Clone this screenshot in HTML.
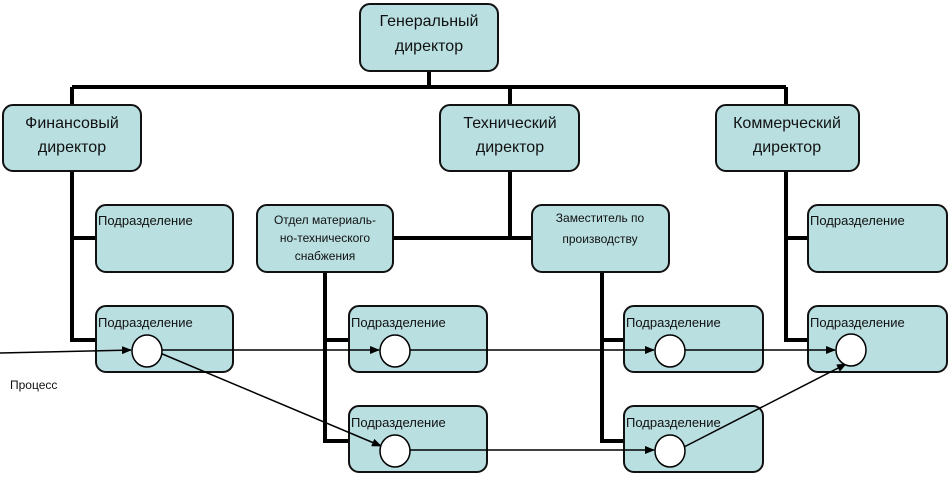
<!DOCTYPE html>
<html><head><meta charset="utf-8"><style>
html,body{margin:0;padding:0;background:#fff;}
svg{display:block;}
text{font-family:"Liberation Sans","DejaVu Sans",sans-serif;fill:#111;}
</style></head><body>
<svg width="951" height="483" viewBox="0 0 951 483" xmlns="http://www.w3.org/2000/svg">
<defs>
<marker id="a" markerWidth="10" markerHeight="8" refX="9" refY="4" orient="auto" markerUnits="userSpaceOnUse">
<path d="M0,0 L10,4 L0,8 z" fill="#000"/></marker>
</defs>
<g stroke="#000" stroke-width="4" fill="none">
<path d="M429 71 V87 M72 87 H786 M72 87 V105 M510 87 V105 M786 87 V105"/>
<path d="M72 171 V340 H96 M72 238 H96"/>
<path d="M510 171 V238 M393 238 H532"/>
<path d="M786 171 V340 H808 M786 238 H808"/>
<path d="M325 272 V441 H349 M325 340 H349"/>
<path d="M602 272 V441 H624 M602 340 H624"/>
</g>
<g fill="#b9dfe1" stroke="#111" stroke-width="2">
<rect x="360" y="4" width="138" height="67" rx="10"/>
<rect x="3" y="105" width="138" height="66" rx="10"/>
<rect x="440" y="105" width="139" height="66" rx="10"/>
<rect x="716" y="105" width="143" height="66" rx="10"/>
<rect x="96" y="205" width="137" height="67" rx="10"/>
<rect x="257" y="205" width="136" height="67" rx="10"/>
<rect x="532" y="205" width="137" height="67" rx="10"/>
<rect x="808" y="205" width="139" height="67" rx="10"/>
<rect x="96" y="306" width="137" height="66" rx="10"/>
<rect x="349" y="306" width="138" height="66" rx="10"/>
<rect x="624" y="306" width="139" height="66" rx="10"/>
<rect x="808" y="306" width="139" height="66" rx="10"/>
<rect x="349" y="406" width="138" height="66" rx="10"/>
<rect x="624" y="406" width="139" height="66" rx="10"/>
</g>
<g font-size="16" text-anchor="middle">
<text x="429" y="26">Генеральный</text><text x="429" y="51">директор</text>
<text x="72" y="128">Финансовый</text><text x="72" y="152">директор</text>
<text x="510" y="128">Технический</text><text x="510" y="152">директор</text>
<text x="787" y="128">Коммерческий</text><text x="787" y="152">директор</text>
</g>
<g font-size="13">
<text x="98" y="225">Подразделение</text>
<text x="810" y="225">Подразделение</text>
<text x="325" y="224" text-anchor="middle" font-size="12">Отдел материаль-</text>
<text x="325" y="242" text-anchor="middle" font-size="12">но-технического</text>
<text x="325" y="260" text-anchor="middle" font-size="12">снабжения</text>
<text x="600" y="222" text-anchor="middle" font-size="12">Заместитель по</text>
<text x="600" y="243" text-anchor="middle" font-size="12">производству</text>
<text x="98" y="327">Подразделение</text>
<text x="351" y="327">Подразделение</text>
<text x="626" y="327">Подразделение</text>
<text x="810" y="327">Подразделение</text>
<text x="351" y="427">Подразделение</text>
<text x="626" y="427">Подразделение</text>
<text x="10" y="389" font-size="12">Процесс</text>
</g>
<g stroke="#000" stroke-width="1.5" fill="none">
<line x1="0" y1="353" x2="131" y2="350" marker-end="url(#a)"/>
<line x1="162" y1="350" x2="379" y2="350" marker-end="url(#a)"/>
<line x1="410" y1="350" x2="654" y2="350" marker-end="url(#a)"/>
<line x1="685" y1="350" x2="835" y2="350" marker-end="url(#a)"/>
<line x1="160" y1="353" x2="381" y2="446" marker-end="url(#a)"/>
<line x1="410" y1="450" x2="654" y2="450" marker-end="url(#a)"/>
<line x1="684" y1="447" x2="846" y2="364" marker-end="url(#a)"/>
</g>
<g fill="#fff" stroke="#000" stroke-width="1.5">
<ellipse cx="147" cy="351" rx="15" ry="16"/>
<ellipse cx="395" cy="351" rx="15" ry="16"/>
<ellipse cx="670" cy="351" rx="15" ry="16"/>
<ellipse cx="851" cy="350" rx="15" ry="16"/>
<ellipse cx="395" cy="451" rx="15" ry="16"/>
<ellipse cx="670" cy="451" rx="15" ry="16"/>
</g>
</svg>
</body></html>
